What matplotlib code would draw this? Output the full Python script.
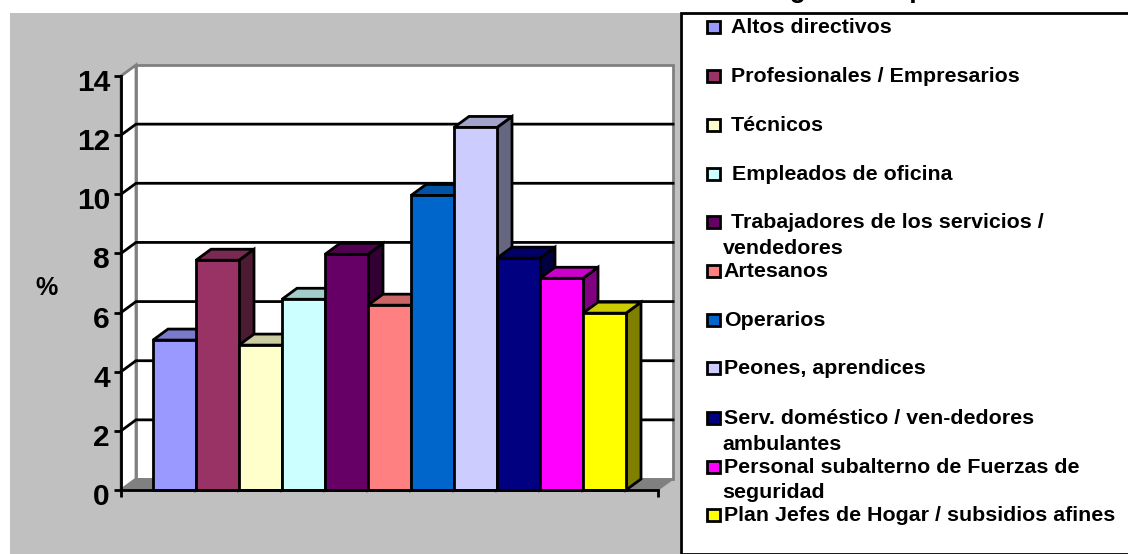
import matplotlib
matplotlib.use('Agg')
import matplotlib.pyplot as plt
from matplotlib.patches import Polygon, Rectangle
from matplotlib.transforms import ScaledTranslation
import numpy as np

plt.rcParams['font.family'] = ['Liberation Sans', 'DejaVu Sans']
plt.rcParams['font.weight'] = 'bold'

# data
categorias = ['Altos directivos', 'Profesionales / Empresarios', 'Técnicos',
              'Empleados de oficina', 'Trabajadores de los servicios /\nvendedores',
              'Artesanos', 'Operarios', 'Peones, aprendices',
              'Serv. doméstico / ven-dedores\nambulantes',
              'Personal subalterno de Fuerzas de\nseguridad',
              'Plan Jefes de Hogar / subsidios afines']
valores = [5.07, 7.77, 4.9, 6.45, 7.97, 6.25, 9.96, 12.26, 7.84, 7.16, 5.98]
y_ticks = [0, 2, 4, 6, 8, 10, 12, 14]

colores = ['#9999ff', '#993366', '#ffffcc', '#ccffff', '#660066', '#ff8080',
           '#0066cc', '#ccccff', '#000080', '#ff00ff', '#ffff00']
oscuros = ['#4d4d80', '#4d1a33', '#808066', '#668080', '#330033', '#804040',
           '#003366', '#666680', '#000040', '#800080', '#808000']
medios = ['#7a7acc', '#7a2952', '#cccca3', '#a3cccc', '#520052', '#cc6666',
          '#0052a3', '#a3a3cc', '#000066', '#cc00cc', '#cccc00']

W, H = 1128, 554
fig = plt.figure(figsize=(W / 100, H / 100), dpi=100, facecolor='white')


def px(x, y):
    return x / W, 1 - y / H


# fondo gris y recuadro de la leyenda
fig.patches.append(Rectangle(px(10, 554), 670 / W, 541 / H, transform=fig.transFigure,
                             facecolor='#c0c0c0', edgecolor='none', zorder=0))
fig.patches.append(Rectangle(px(681, 554), 460 / W, 541 / H, transform=fig.transFigure,
                             facecolor='white', edgecolor='black', linewidth=2, zorder=1))

# ejes: frente del grafico
left, right, top, bottom = 121, 658, 76, 490
ax = fig.add_axes([left / W, 1 - bottom / H, (right - left) / W, (bottom - top) / H], zorder=10)
ax.patch.set_visible(False)
bar_w = 43.0
x0 = -0.5 - (153 - left) / bar_w
ax.set_xlim(x0, x0 + (right - left) / bar_w)
ax.set_ylim(0, 14)
dx = 15 / bar_w
dy = 11 / ((bottom - top) / 14)
xa, xb = ax.get_xlim()
ytop = 14
lw = 2.0

# paredes
ax.add_patch(Polygon([(xa, 0), (xa + dx, dy), (xa + dx, ytop + dy), (xa, ytop)], closed=True,
                     facecolor='white', edgecolor='#808080', linewidth=2, clip_on=False, zorder=1))
ax.add_patch(Polygon([(xa + dx, dy), (xb + dx, dy), (xb + dx, ytop + dy), (xa + dx, ytop + dy)],
                     closed=True, facecolor='white', edgecolor='#808080', linewidth=2,
                     clip_on=False, zorder=1))
ax.add_patch(Polygon([(xa, 0), (xb, 0), (xb + dx, dy), (xa + dx, dy)], closed=True,
                     facecolor='#808080', edgecolor='#808080', linewidth=1, clip_on=False, zorder=1))

# lineas de grilla en las paredes
for t in y_ticks[1:-1]:
    ax.plot([xa, xa + dx, xb + dx], [t, t + dy, t + dy], color='black', linewidth=lw,
            clip_on=False, zorder=2, solid_joinstyle='miter')

# barras en pseudo 3D
pos = np.arange(len(valores))
for i, v in enumerate(valores):
    l, r = pos[i] - 0.5, pos[i] + 0.5
    ax.add_patch(Polygon([(r, 0), (r + dx, dy), (r + dx, v + dy), (r, v)], closed=True,
                         facecolor=oscuros[i], edgecolor='black', linewidth=lw,
                         clip_on=False, zorder=3 + i))
    ax.add_patch(Polygon([(l, v), (r, v), (r + dx, v + dy), (l + dx, v + dy)], closed=True,
                         facecolor=medios[i], edgecolor='black', linewidth=lw,
                         clip_on=False, zorder=3 + i))
    ax.bar(pos[i], v, width=1, color=colores[i], edgecolor='black', linewidth=lw,
           clip_on=False, zorder=3 + i)

# ejes
for s in ['top', 'right']:
    ax.spines[s].set_visible(False)
for s in ['left', 'bottom']:
    ax.spines[s].set_linewidth(lw)
    ax.spines[s].set_zorder(20)
ax.set_yticks(y_ticks)
ax.tick_params(axis='y', length=5, width=lw, pad=3, labelsize=21.5)
# las etiquetas quedan un poco por debajo de la marca
baja = ScaledTranslation(0, -4 / 100, fig.dpi_scale_trans)
for lab in ax.get_yticklabels():
    lab.set_transform(lab.get_transform() + baja)
ax.set_xticks([xa, xb])
ax.set_xticklabels([])
ax.tick_params(axis='x', length=5, width=lw)
fig.text(*px(46, 288), '%', fontsize=18, ha='center', va='center')

# leyenda
ley_y = [27, 76, 125, 174, 222, 271, 320, 368, 418, 467, 515]
ley_x = [731, 731, 731, 732, 731, 723, 724, 724, 724, 724, 724]
for nombre, c, ty, tx in zip(categorias, colores, ley_y, ley_x):
    fig.patches.append(Rectangle(px(707, ty + 6), 13 / W, 12 / H, transform=fig.transFigure,
                                 facecolor=c, edgecolor='black', linewidth=2, zorder=3))
    lines = nombre.split('\n')
    fig.text(*px(tx, ty + 6), lines[0], fontsize=15.4, ha='left', va='baseline', zorder=4)
    if len(lines) > 1:
        fig.text(*px(722.5, ty + 31.5), lines[1], fontsize=15.4, ha='left', va='baseline', zorder=4)

# titulo cortado por el borde superior
fig.text(*px(732, -3), 'Categoría ocupacional', fontsize=19.2, ha='left', va='baseline')

fig.savefig('out.png', dpi=100)
